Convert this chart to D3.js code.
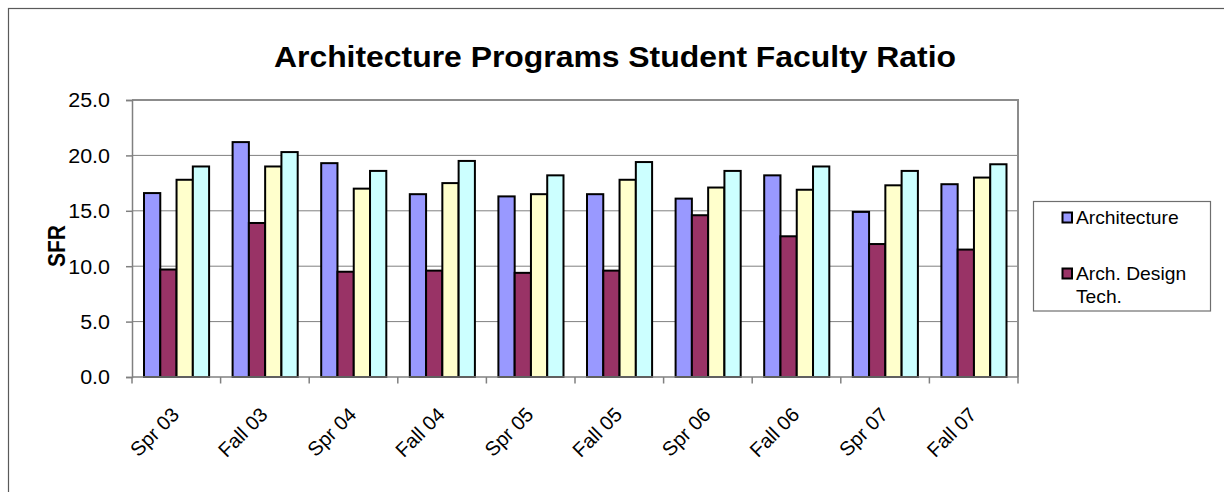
<!DOCTYPE html>
<html>
<head>
<meta charset="utf-8">
<script src="https://cdn.jsdelivr.net/npm/d3@7"></script>
<style>
  html, body { margin: 0; padding: 0; background: #fff; }
  svg { display: block; font-family: "Liberation Sans", Arial, sans-serif; }
</style>
</head>
<body>
<svg id="chart" width="1224" height="492"></svg>
<script>
// Terms on the category axis
const categories = ["Spr 03", "Fall 03", "Spr 04", "Fall 04", "Spr 05",
                    "Fall 05", "Spr 06", "Fall 06", "Spr 07", "Fall 07"];

// Student/faculty ratio per term, one array per series
const architecture   = [16.6, 21.2, 19.3, 16.5, 16.3, 16.5, 16.1, 18.2, 14.9, 17.4];
const archDesignTech = [9.7, 13.9, 9.5, 9.6, 9.4, 9.6, 14.6, 12.7, 12.0, 11.5];
const series3        = [17.8, 19.0, 17.0, 17.5, 16.5, 17.8, 17.1, 16.9, 17.3, 18.0];
const series4        = [19.0, 20.3, 18.6, 19.5, 18.2, 19.4, 18.6, 19.0, 18.6, 19.2];

const seriesNames  = ["Architecture", "Arch. Design Tech.", "Series 3", "Series 4"];
const seriesValues = [architecture, archDesignTech, series3, series4];
const seriesColors = ["#9999FF", "#993366", "#FFFFCC", "#CCFFFF"];

// Y axis ticks
const yTicks = [0, 5, 10, 15, 20, 25];

const title  = "Architecture Programs Student Faculty Ratio";
const yTitle = "SFR";

// Slight horizontal text widening
const SX = 1.1;
const FONT = '"Liberation Sans", Arial, sans-serif';

const svg = d3.select("#chart");

// Outer chart frame (left and top edges visible)
svg.append("rect")
  .attr("x", 8.5).attr("y", 8.5)
  .attr("width", 1400).attr("height", 700)
  .attr("fill", "none").attr("stroke", "#5a5a5a").attr("stroke-width", 1.2);

const plot = { left: 132, right: 1018, top: 100, bottom: 377 };

const x0 = d3.scaleBand().domain(categories).range([plot.left, plot.right]).padding(0);
const x1 = d3.scaleBand().domain(d3.range(seriesNames.length))
  .range([12, x0.bandwidth() - 11.5]).padding(0);
const y = d3.scaleLinear().domain([0, 25]).range([plot.bottom, plot.top]);

// Horizontal gridlines
svg.append("g").selectAll("line").data(yTicks.filter(t => t > 0 && t < 25)).join("line")
  .attr("x1", plot.left).attr("x2", plot.right)
  .attr("y1", d => y(d)).attr("y2", d => y(d))
  .attr("stroke", "#808080").attr("stroke-width", 1);

// Plot frame top and right
svg.append("path")
  .attr("d", `M${plot.left},${plot.top}H${plot.right}V${plot.bottom}`)
  .attr("fill", "none").attr("stroke", "#8c8c8c").attr("stroke-width", 2);

// Bars
const rows = categories.map((c, i) => ({ cat: c, vals: seriesValues.map(s => s[i]) }));
const groups = svg.append("g").selectAll("g").data(rows).join("g")
  .attr("transform", d => `translate(${x0(d.cat)},0)`);
groups.selectAll("rect").data(d => d.vals.map((v, k) => ({ v, k }))).join("rect")
  .attr("x", d => x1(d.k))
  .attr("y", d => y(d.v))
  .attr("width", x1.bandwidth())
  .attr("height", d => y(0) - y(d.v))
  .attr("fill", d => seriesColors[d.k])
  .attr("stroke", "#000").attr("stroke-width", 2);

// Y axis
const yAxis = svg.append("g")
  .attr("transform", `translate(${plot.left},0)`)
  .call(d3.axisLeft(y).tickValues(yTicks).tickSize(6).tickPadding(0).tickFormat(d3.format(".1f")));
yAxis.select(".domain").attr("stroke", "#808080").attr("stroke-width", 1.5);
yAxis.selectAll(".tick line").attr("stroke", "#808080").attr("stroke-width", 1.5);
yAxis.selectAll(".tick text")
  .attr("x", null)
  .attr("transform", "translate(-22,0) scale(" + SX + ",1)")
  .attr("dy", "0.35em")
  .attr("text-anchor", "end")
  .attr("font-family", FONT).attr("font-size", 19.5).attr("fill", "#000");

// X axis with boundary ticks between categories
const xAxisG = svg.append("g");
xAxisG.append("line")
  .attr("x1", plot.left).attr("x2", plot.right)
  .attr("y1", plot.bottom).attr("y2", plot.bottom)
  .attr("stroke", "#808080").attr("stroke-width", 1.5);
const bounds = categories.map(c => x0(c)).concat([plot.right]);
xAxisG.selectAll("line.tk").data(bounds).join("line")
  .attr("class", "tk")
  .attr("x1", d => d).attr("x2", d => d)
  .attr("y1", plot.bottom).attr("y2", plot.bottom + 6.5)
  .attr("stroke", "#808080").attr("stroke-width", 1.5);
xAxisG.selectAll("text").data(categories).join("text")
  .attr("transform", d => `translate(${x0(d) + x0.bandwidth() / 2 + 4},${plot.bottom + 39}) rotate(-45)`)
  .attr("text-anchor", "end")
  .attr("font-family", FONT).attr("font-size", 20).attr("fill", "#000")
  .text(d => d);

// Title
svg.append("text")
  .attr("transform", `translate(615,67) scale(${SX},1)`)
  .attr("text-anchor", "middle")
  .attr("font-family", FONT).attr("font-size", 29).attr("font-weight", "bold")
  .attr("fill", "#000")
  .text(title);

// Y axis title
svg.append("text")
  .attr("transform", `translate(65,246) scale(${SX},1) rotate(-90)`)
  .attr("text-anchor", "middle")
  .attr("font-family", FONT).attr("font-size", 21).attr("font-weight", "bold")
  .attr("fill", "#000")
  .text(yTitle);

// Legend (first two series)
const legend = svg.append("g");
legend.append("rect")
  .attr("x", 1033.5).attr("y", 201.5).attr("width", 177).attr("height", 109.5)
  .attr("fill", "#fff").attr("stroke", "#6e6e6e").attr("stroke-width", 1.2);

const legendItems = [
  { k: 0, lines: ["Architecture"], y: 212 },
  { k: 1, lines: ["Arch. Design", "Tech."], y: 268 }
];
legendItems.forEach(item => {
  legend.append("rect")
    .attr("x", 1062.5).attr("y", item.y + 0.5).attr("width", 9.5).attr("height", 10)
    .attr("fill", seriesColors[item.k]).attr("stroke", "#000").attr("stroke-width", 2);
  item.lines.forEach((ln, j) => {
    legend.append("text")
      .attr("transform", `translate(1076,${item.y + 12 + j * 23}) scale(${SX},1)`)
      .attr("font-family", FONT).attr("font-size", 17.5).attr("fill", "#000")
      .text(ln);
  });
});
</script>
</body>
</html>
